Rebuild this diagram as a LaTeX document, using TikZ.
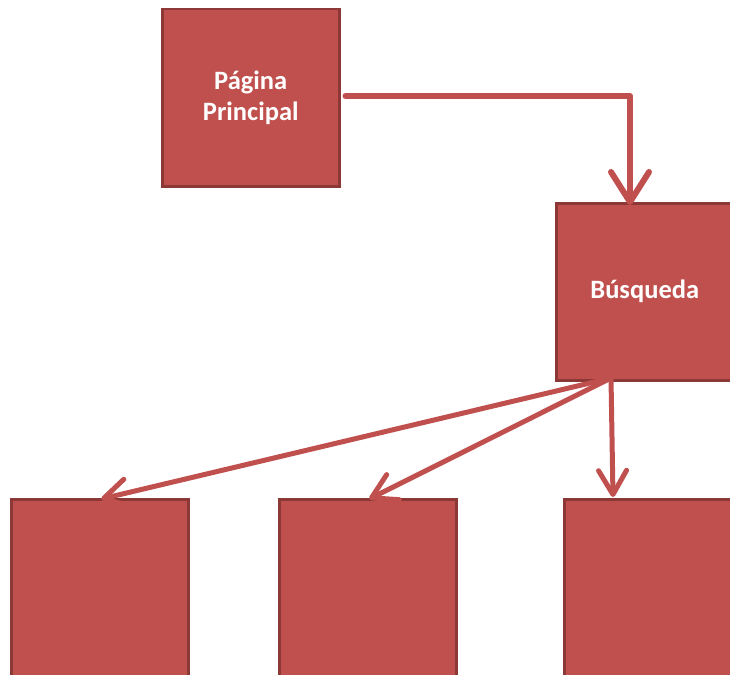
\documentclass[tikz,border=0pt]{standalone}
\usepackage{fontspec}
\setmainfont{Carlito}
\usetikzlibrary{arrows.meta,shadows}
\definecolor{boxred}{HTML}{C0504D}
\definecolor{boxedge}{HTML}{8C3836}
\tikzset{
  page/.style={draw=boxedge, fill=boxred, line width=2.5pt, minimum width=177pt, minimum height=177pt,
    inner sep=0pt, anchor=north west, text=white, align=center,
    font=\fontsize{26.5}{31}\selectfont\bfseries,
    drop shadow={shadow xshift=1.5pt, shadow yshift=-1.5pt, opacity=0.25, fill=black}},
  bigarrow/.style={draw=boxred, line width=6pt, line cap=round, line join=round,
    -{Straight Barb[length=30pt,width=38pt,round]}},
  thinarrow/.style={draw=boxred, line width=5pt, line cap=round, line join=round,
    -{Straight Barb[length=24pt,width=28pt,round]}},
}
\begin{document}
\begin{tikzpicture}[x=1pt,y=-1pt]
\useasboundingbox (0,0) rectangle (730,674);
\node[page] (pp) at (161,8) {Página\\Principal};
\node[page] (bus) at (555,202) {Búsqueda};
\node[page] (b1) at (10,498) {};
\node[page] (b2) at (278,498) {};
\node[page] (b3) at (563,498) {};
\coordinate (bend) at (630,96);
\coordinate (src) at (611,378);
\coordinate (t3) at (613,497);
\draw[bigarrow] ([xshift=5pt]pp.east |- bend) -- (bend) -- ([yshift=-3pt]bus.north -| bend);
\draw[thinarrow] (src) -- ([xshift=1.5pt,yshift=-1pt]b1.north);
\draw[thinarrow] (src) -- ([xshift=1.5pt,yshift=-1pt]b2.north);
\draw[thinarrow] (src) -- (t3);
\end{tikzpicture}
\end{document}
